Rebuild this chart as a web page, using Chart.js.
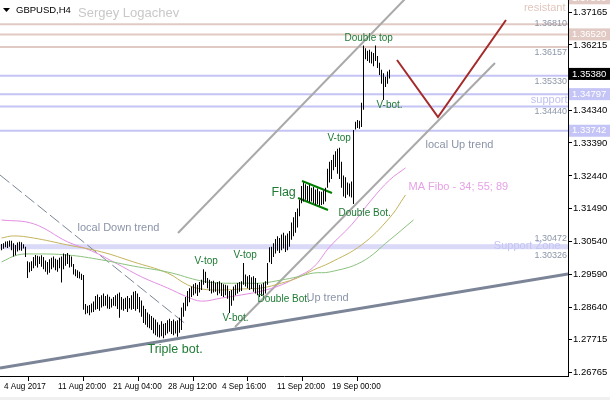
<!DOCTYPE html>
<html><head><meta charset="utf-8">
<script src="https://cdn.jsdelivr.net/npm/chart.js@4.4.1/dist/chart.umd.min.js"></script>
<style>html,body{margin:0;padding:0;background:#fff;overflow:hidden}#wrap{width:610px;height:400px;position:relative}</style>
</head><body><div id="wrap"><canvas id="c" width="610" height="400"></canvas></div>
<script>
// ---- H4 bars (high / low), one per bar index ----
const highs = [
1.3048,1.3050,1.3055,1.3056,1.3058,1.3057,1.3050,1.3045,1.3052,1.3054,1.3053,1.3047,1.3040,1.2998,1.2995,1.2998,1.3010,1.3016,1.3014,1.3012,
1.3015,1.3010,1.3000,1.2996,1.3004,1.3008,1.3012,1.3005,1.3002,1.3008,1.3012,1.3020,1.3018,1.3022,1.3016,1.3012,1.2990,1.2975,1.2972,1.2968,
1.2962,1.2958,1.2875,1.2870,1.2872,1.2876,1.2882,1.2898,1.2902,1.2895,1.2900,1.2905,1.2898,1.2902,1.2896,1.2890,1.2895,1.2900,1.2904,1.2908,
1.2895,1.2890,1.2893,1.2898,1.2892,1.2900,1.2910,1.2912,1.2905,1.2895,1.2885,1.2870,1.2860,1.2850,1.2845,1.2840,1.2835,1.2830,1.2822,1.2815,
1.2825,1.2818,1.2820,1.2828,1.2832,1.2826,1.2830,1.2825,1.2828,1.2835,1.2865,1.2878,1.2895,1.2912,1.2920,1.2925,1.2932,1.2935,1.2930,1.2938,
1.2945,1.2975,1.2968,1.2950,1.2945,1.2940,1.2942,1.2936,1.2938,1.2940,1.2935,1.2932,1.2930,1.2928,1.2912,1.2915,1.2925,1.2930,1.2935,1.2938,
1.2940,1.2993,1.2960,1.2955,1.2958,1.2952,1.2955,1.2950,1.2935,1.2930,1.2932,1.2936,1.2940,1.2993,1.3038,1.3040,1.3050,1.3062,1.3070,1.3065,
1.3075,1.3080,1.3072,1.3078,1.3085,1.3110,1.3125,1.3140,1.3150,1.3175,1.3215,1.3225,1.3220,1.3215,1.3218,1.3210,1.3212,1.3205,1.3208,1.3200,
1.3198,1.3202,1.3210,1.3265,1.3285,1.3290,1.3305,1.3315,1.3322,1.3325,1.3285,1.3245,1.3240,1.3225,1.3222,1.3228,1.3376,1.3400,1.3405,1.3403,
1.3455,1.3620,1.3612,1.3605,1.3608,1.3602,1.3598,1.3620,1.3590,1.3570,1.3550,1.3540,1.3530,1.3545,1.3550];
const lows = [
1.3030,1.3034,1.3038,1.3036,1.3040,1.3030,1.3012,1.3015,1.3026,1.3030,1.3028,1.3035,1.3010,1.2950,1.2966,1.2970,1.2978,1.2985,1.2980,1.2990,
1.2982,1.2975,1.2968,1.2960,1.2965,1.2975,1.2980,1.2972,1.2968,1.2978,1.2937,1.2975,1.2985,1.2990,1.2980,1.2982,1.2960,1.2955,1.2950,1.2948,
1.2944,1.2858,1.2845,1.2848,1.2842,1.2850,1.2852,1.2858,1.2860,1.2855,1.2865,1.2868,1.2870,1.2862,1.2860,1.2865,1.2870,1.2868,1.2860,1.2835,
1.2858,1.2855,1.2860,1.2852,1.2862,1.2858,1.2860,1.2855,1.2860,1.2850,1.2838,1.2820,1.2815,1.2808,1.2805,1.2800,1.2790,1.2785,1.2780,1.2778,
1.2782,1.2776,1.2785,1.2790,1.2795,1.2788,1.2785,1.2790,1.2780,1.2792,1.2800,1.2838,1.2855,1.2868,1.2880,1.2895,1.2900,1.2905,1.2898,1.2908,
1.2915,1.2930,1.2935,1.2920,1.2912,1.2905,1.2908,1.2910,1.2900,1.2905,1.2898,1.2895,1.2900,1.2890,1.2849,1.2870,1.2885,1.2900,1.2905,1.2910,
1.2912,1.2930,1.2925,1.2920,1.2915,1.2918,1.2910,1.2905,1.2900,1.2895,1.2898,1.2900,1.2905,1.2930,1.2995,1.2990,1.3010,1.3020,1.3028,1.3022,
1.3030,1.3035,1.3025,1.3030,1.3040,1.3060,1.3070,1.3080,1.3095,1.3128,1.3165,1.3170,1.3175,1.3172,1.3168,1.3170,1.3165,1.3160,1.3162,1.3158,
1.3160,1.3162,1.3170,1.3210,1.3225,1.3235,1.3260,1.3270,1.3250,1.3235,1.3210,1.3185,1.3180,1.3190,1.3185,1.3182,1.3163,1.3378,1.3382,1.3380,
1.3385,1.3435,1.3580,1.3575,1.3570,1.3568,1.3560,1.3575,1.3555,1.3535,1.3510,1.3463,1.3500,1.3510,1.3525];
const lastPrice = 1.35380;

// ---- axis ticks ----
const dateLabels = ['4 Aug 2017','11 Aug 20:00','21 Aug 04:00','28 Aug 12:00','4 Sep 16:00','11 Sep 20:00','19 Sep 00:00'];
const dateTickIdx = [0.25, 27.25, 54.75, 82.25, 109.25, 136.75, 164.25];
const priceTicks = [1.37165,1.36215,1.35285,1.34340,1.33390,1.32440,1.31490,1.30540,1.29590,1.28640,1.27715,1.26765];

// ---- MA Fibo 34 / 55 / 89 (read at sample bars) ----
const ma34Idx = [0,16,33,45,58,70,83,93,100,110,120,130,140,148,156,164,175,185,194,202];
const ma34    = [1.3117,1.3106,1.3054,1.3028,1.2990,1.2953,1.2921,1.2895,1.2883,1.2892,1.2901,1.2912,1.2930,1.2953,1.2981,1.3039,1.3103,1.3175,1.3232,1.3267];
const ma55Idx = [0,6,16,33,50,66,83,93,100,110,120,130,140,148,156,164,180,194,202];
const ma55    = [1.3065,1.3071,1.3065,1.3045,1.3025,1.2996,1.2964,1.2930,1.2918,1.2915,1.2918,1.2921,1.2935,1.2950,1.2973,1.2993,1.3045,1.3123,1.3189];
const ma89Idx = [0,8,16,33,50,66,83,100,110,120,130,140,148,156,164,180,194,206];
const ma89    = [1.2996,1.3016,1.3019,1.3016,1.3002,1.2984,1.2967,1.2941,1.2935,1.2935,1.2935,1.2944,1.2953,1.2964,1.2967,1.2996,1.3059,1.3117];

// ---- levels ----
const resistLevels = [1.37560,1.36810,1.36520,1.36157];
const supportLevels = [1.35330,1.34797,1.34440,1.33742];
const supportZone = [1.30326,1.30472];

// ---- trend lines: [startIdx, startPrice, endIdx, endPrice] ----
const upTrend      = [-0.75,1.26903, 283.25,1.29612];
const channelUpper = [88.25,1.30794, 206.25,1.37808];
const channelLower = [116.75,1.28085, 246.75,1.35695];
const localDown    = [-0.75,1.32466, 92.75,1.28142];
const flagUpper    = [150.25,1.32293, 165.25,1.31947];
const flagLower    = [148.25,1.31803, 163.25,1.31457];
const forecastIdx  = [197.75,218.25,252.25];
const forecastPx   = [1.35781,1.34138,1.36934];

// ---- text annotations: [text, barIdx, price] ----
const patternNotes = [
 ['Double top',171.5,1.36416],['V-bot.',187.5,1.34484],['V-top',163,1.33533],['Double Bot.',168.5,1.31371],
 ['V-top',96.5,1.29987],['V-top',116,1.30160],['Double Bot.',128,1.28892],['V-bot.',110.5,1.28344]
];
const bigNotes = [['Flag',135,1.31947],['Triple bot.',73,1.27421]];
const greyNotes = [['local Up trend',212,1.33331],['local Down trend',38,1.30938],['Up trend',152.5,1.28921]];

const FONT = "'Liberation Sans', Arial, sans-serif";
function pickDateFont(){
  const c=document.createElement('canvas').getContext('2d');
  c.font="10px 'Liberation Sans Narrow', monospace"; const a=c.measureText('11 Aug 20:00').width;
  c.font="10px 'Liberation Sans'"; const b=c.measureText('11 Aug 20:00').width;
  return a < b*0.93 ? {family:"'Liberation Sans Narrow'", size:9.5} : {family:FONT, size:8.2};
}
const dateFont = pickDateFont();

const seg = (a)=>[{x:a[0],y:a[1]},{x:a[2],y:a[3]}];
const hline = (p)=>[{x:-0.75,y:p},{x:283.25,y:p}];
const lineDs = (data,color,width,order,extra)=>Object.assign({type:'line',data,borderColor:color,borderWidth:width,pointRadius:0,fill:false,order,tension:0},extra||{});

const datasets = [];
datasets.push({type:'bar',data:highs.map((h,i)=>({x:i,y:[lows[i],h]})),backgroundColor:'#000',borderWidth:0,barThickness:1,inflateAmount:0,grouped:false,order:0});
resistLevels.forEach(p=>datasets.push(lineDs(hline(p),'#e2cac4',2,5)));
supportLevels.forEach(p=>datasets.push(lineDs(hline(p),'#c4c4f6',2,5)));
datasets.push(lineDs(ma89Idx.map((x,k)=>({x,y:ma89[k]})),'#8cc27e',1,2,{tension:0.4}));
datasets.push(lineDs(ma55Idx.map((x,k)=>({x,y:ma55[k]})),'#c4b45c',1,2,{tension:0.4}));
datasets.push(lineDs(ma34Idx.map((x,k)=>({x,y:ma34[k]})),'#e38ee3',1,2,{tension:0.4}));
datasets.push(lineDs(seg(upTrend),'#7b8597',3,3));
datasets.push(lineDs(seg(channelUpper),'#a9a9a9',2,3));
datasets.push(lineDs(seg(channelLower),'#a9a9a9',2,3));
datasets.push(lineDs(seg(localDown),'#7b8597',1,3,{borderDash:[12,4]}));
datasets.push(lineDs(seg(flagUpper),'#008000',2,3));
datasets.push(lineDs(seg(flagLower),'#008000',2,3));
datasets.push(lineDs(forecastIdx.map((x,k)=>({x,y:forecastPx[k]})),'#a52a2a',2,3));

const decor = {
  id:'decor',
  beforeDraw(chart){
    const c=chart.ctx; c.save(); c.fillStyle='#fff'; c.fillRect(0,0,chart.width,chart.height);
    c.fillStyle='#f0f0f0'; c.fillRect(0,397,chart.width,3); c.restore();
  },
  beforeDatasetsDraw(chart){
    const c=chart.ctx, y=chart.scales.y, a=chart.chartArea;
    const y1=y.getPixelForValue(supportZone[1]), y0=y.getPixelForValue(supportZone[0]);
    c.save(); c.fillStyle='#dadaf8'; c.fillRect(a.left,y1,a.right-a.left,y0-y1); c.restore();
  },
  afterDatasetsDraw(chart){
    const c=chart.ctx, xs=chart.scales.x, ys=chart.scales.y, a=chart.chartArea;
    c.save();
    c.beginPath(); c.rect(a.left,a.top,a.right-a.left,a.bottom-a.top); c.clip();
    c.textBaseline='middle'; c.textAlign='left';
    const put=(t,i,p,color,size,align)=>{c.font=size+'px '+FONT; c.fillStyle=color; c.textAlign=align||'left'; c.fillText(t,xs.getPixelForValue(i),ys.getPixelForValue(p));};
    patternNotes.forEach(n=>put(n[0],n[1],n[2],'#1f7a34',10));
    bigNotes.forEach(n=>put(n[0],n[1],n[2],'#1f7a34',12.5));
    greyNotes.forEach(n=>put(n[0],n[1],n[2],'#8a94a8',11));
    put('MA Fibo - 34; 55; 89',203.5,1.32120,'#e6a2e6',11);
    put('Support Zone',279.5,1.30420,'#c4c4f4',11,'right');
    put('support',283,1.34628,'#c0c0f0',11,'right');
    put('resistant',282,1.37280,'#e2c6be',11,'right');
    // level value captions
    const cap=(t,p,dy)=>{c.font='9px '+FONT; c.fillStyle='#8c96a8'; c.textAlign='right'; c.fillText(t,a.right-1,ys.getPixelForValue(p)+dy);};
    cap('1.36810',1.36810,-1); cap('1.36157',1.36157,6); cap('1.35330',1.35330,6); cap('1.34440',1.34440,5);
    cap('1.30472',supportZone[1],-6); cap('1.30326',supportZone[0],6);
    // header
    c.fillStyle='#000'; c.beginPath(); c.moveTo(3,8); c.lineTo(10,8); c.lineTo(6.5,12); c.closePath(); c.fill();
    c.font='9.5px '+FONT; c.textAlign='left'; c.fillText('GBPUSD,H4',16,10);
    c.font='13px '+FONT; c.fillStyle='#c8c8c8'; c.fillText('Sergey Logachev',78,13);
    c.restore();
  },
  afterDraw(chart){
    const c=chart.ctx, ys=chart.scales.y, a=chart.chartArea;
    c.save(); c.textBaseline='middle'; c.textAlign='left'; c.font='9.5px '+FONT;
    const box=(p,bg,fg)=>{const y=ys.getPixelForValue(p); c.fillStyle=bg; c.fillRect(a.right+1,y-6,chart.width-a.right-1,12); c.fillStyle=fg; c.fillText(p.toFixed(5),a.right+4,y);};
    box(resistLevels[0],'#e2cac4','#fff'); box(resistLevels[2],'#e2cac4','#fff');
    box(supportLevels[1],'#c4c4f6','#fff'); box(supportLevels[3],'#c4c4f6','#fff');
    box(lastPrice,'#000','#fff');
    c.restore();
  }
};

new Chart(document.getElementById('c'),{
  type:'bar',
  data:{datasets},
  plugins:[decor],
  options:{
    responsive:false, animation:false, devicePixelRatio:1,
    layout:{padding:0},
    plugins:{legend:{display:false},tooltip:{enabled:false}},
    scales:{
      x:{type:'linear',min:-0.75,max:283.25,offset:false,
        afterFit(s){s.height=24;s.paddingLeft=0;s.paddingRight=0;},
        afterBuildTicks(s){s.ticks=dateTickIdx.map(v=>({value:v}));},
        grid:{drawOnChartArea:false,drawTicks:true,tickLength:5,color:'#000'},
        border:{display:true,color:'#000',width:1},
        ticks:{autoSkip:false,maxRotation:0,align:'start',labelOffset:2,padding:1,color:'#000',font:{family:dateFont.family,size:dateFont.size},
          callback:(v,i)=>dateLabels[i]}},
      y:{type:'linear',position:'right',min:1.26672,max:1.37511,
        afterFit(s){s.width=42;s.paddingTop=0;s.paddingBottom=0;},
        afterBuildTicks(s){s.ticks=priceTicks.map(v=>({value:v}));},
        grid:{drawOnChartArea:false,drawTicks:true,tickLength:4,color:'#000'},
        border:{display:true,color:'#000',width:1},
        ticks:{autoSkip:false,padding:1,color:'#000',font:{family:FONT,size:9.5},callback:(v)=>Number(v).toFixed(5)}}
    }
  }
});
</script></body></html>
